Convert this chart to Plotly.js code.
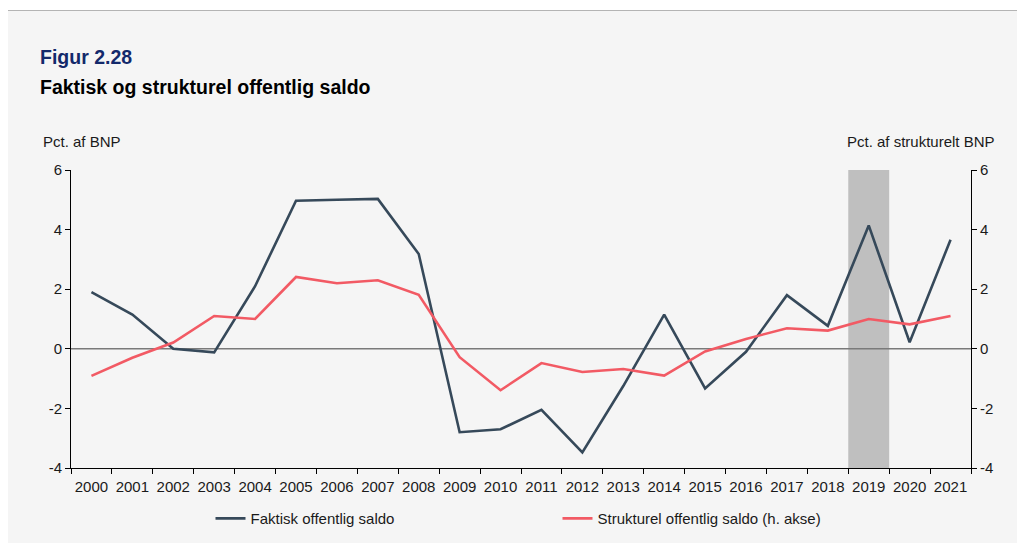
<!DOCTYPE html>
<html>
<head>
<meta charset="utf-8">
<script src="https://cdn.plot.ly/plotly-3.0.1.min.js"></script>
<style>
  html, body { margin: 0; padding: 0; background: #ffffff; }
  #wrap { position: relative; width: 1017px; height: 544px; }
  #bg { position: absolute; left: 8px; top: 10px; width: 1009px; height: 532px; background: #f5f5f5; border-top: 1px solid #b4b4b4; }
  #chart { position: absolute; left: 0; top: 0; width: 1017px; height: 544px; }
</style>
</head>
<body>
<div id="wrap"><div id="bg"></div><div id="chart"></div></div>
<script>
const years = ['2000','2001','2002','2003','2004','2005','2006','2007','2008','2009','2010','2011','2012','2013','2014','2015','2016','2017','2018','2019','2020','2021'];
const faktisk = [1.9, 1.15, 0.0, -0.12, 2.1, 4.97, 5.0, 5.03, 3.18, -2.8, -2.7, -2.05, -3.48, -1.25, 1.15, -1.33, -0.1, 1.8, 0.77, 4.14, 0.22, 3.66];
const strukturel = [-0.91, -0.3, 0.21, 1.1, 1.0, 2.41, 2.2, 2.3, 1.81, -0.28, -1.39, -0.48, -0.78, -0.68, -0.9, -0.09, 0.33, 0.69, 0.61, 1.0, 0.82, 1.1];
const highlightYear = '2019';
const seriesNames = ['Faktisk offentlig saldo', 'Strukturel offentlig saldo (h. akse)'];
const yTicks = [-4, -2, 0, 2, 4, 6];

const FONT = 'Liberation Sans, Arial, sans-serif';
const FS = 15;
const hi = years.indexOf(highlightYear);

const traces = [
  { x: years, y: faktisk, type: 'scatter', mode: 'lines', name: seriesNames[0],
    line: { color: '#36495a', width: 2.6 }, yaxis: 'y' },
  { x: years, y: strukturel, type: 'scatter', mode: 'lines', name: seriesNames[1],
    line: { color: '#f25a64', width: 2.6 }, yaxis: 'y2' }
];

const yCommon = {
  range: [-4, 6], tickvals: yTicks, ticktext: yTicks.map(String),
  ticks: 'outside', ticklen: 5, tickcolor: '#000', showline: true, linecolor: '#000', linewidth: 1,
  showgrid: false, zeroline: false, tickfont: { family: FONT, size: FS, color: '#1a1a1a' }, fixedrange: true
};

const layout = {
  width: 1017, height: 544,
  paper_bgcolor: 'rgba(0,0,0,0)', plot_bgcolor: 'rgba(0,0,0,0)',
  margin: { l: 71, r: 46, t: 170, b: 76, pad: 0, autoexpand: false },
  font: { family: FONT, size: FS, color: '#1a1a1a' },
  showlegend: true,
  legend: { orientation: 'h', x: 0.155, xanchor: 'left', y: -0.17, yanchor: 'middle',
    entrywidth: 302, entrywidthmode: 'pixels', font: { family: FONT, size: FS, color: '#1a1a1a' },
    bgcolor: 'rgba(0,0,0,0)' },
  xaxis: {
    type: 'category', range: [-0.5, years.length - 0.5], tickson: 'boundaries',
    ticks: 'outside', ticklen: 5, tickcolor: '#000', showline: true, linecolor: '#000', linewidth: 1,
    ticklabelstandoff: 5, tickangle: 0,
    showgrid: false, zeroline: false, tickfont: { family: FONT, size: FS, color: '#1a1a1a' }, fixedrange: true
  },
  yaxis: Object.assign({}, yCommon, { side: 'left' }),
  yaxis2: Object.assign({}, yCommon, { side: 'right', overlaying: 'y' }),
  shapes: [
    { type: 'rect', xref: 'x', yref: 'paper', x0: hi - 0.5, x1: hi + 0.5, y0: 0, y1: 1,
      fillcolor: '#bfbfbf', line: { width: 0 }, layer: 'below' },
    { type: 'line', xref: 'paper', yref: 'y', x0: 0, x1: 1, y0: 0, y1: 0,
      line: { color: '#7a7a7a', width: 1.5 }, layer: 'below' }
  ],
  annotations: [
    { text: '<b>Figur 2.28</b>', xref: 'paper', yref: 'paper', x: -0.0367, y: 1.379, xanchor: 'left', yanchor: 'middle',
      showarrow: false, font: { family: FONT, size: 19.5, color: '#13296b' } },
    { text: '<b>Faktisk og strukturel offentlig saldo</b>', xref: 'paper', yref: 'paper', x: -0.0367, y: 1.2785, xanchor: 'left', yanchor: 'middle',
      showarrow: false, font: { family: FONT, size: 19.5, color: '#000000' } },
    { text: 'Pct. af BNP', xref: 'paper', yref: 'paper', x: -0.033, y: 1.097, xanchor: 'left', yanchor: 'middle',
      showarrow: false, font: { family: FONT, size: FS, color: '#1a1a1a' } },
    { text: 'Pct. af strukturelt BNP', xref: 'paper', yref: 'paper', x: 1.029, y: 1.097, xanchor: 'right', yanchor: 'middle',
      showarrow: false, font: { family: FONT, size: FS, color: '#1a1a1a' } }
  ]
};

Plotly.newPlot('chart', traces, layout, { displayModeBar: false, staticPlot: true });
</script>
</body>
</html>
